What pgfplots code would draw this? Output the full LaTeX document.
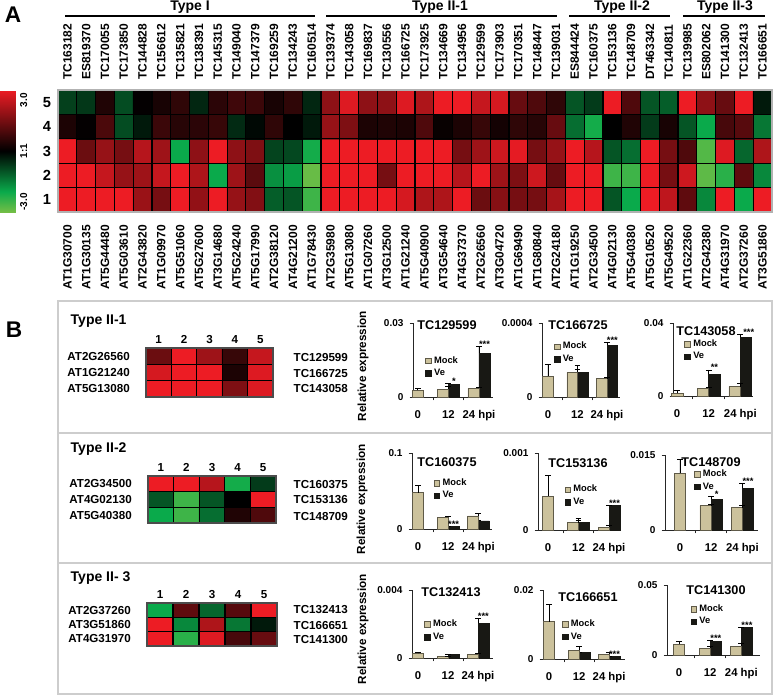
\documentclass[border=0pt]{standalone}
\usepackage{fontspec}
\setmainfont{Liberation Sans}
\usepackage{pgfplots}
\pgfplotsset{compat=1.18}

\newcommand\ff[1]{\fontsize{#1}{#1}\selectfont\bfseries}
\definecolor{mock}{RGB}{204,194,156}
\definecolor{mockedge}{RGB}{95,90,72}
\definecolor{ve}{RGB}{24,24,20}
\definecolor{boxgray}{RGB}{205,205,205}

\pgfplotsset{
  colormap={gbr}{rgb255(0cm)=(115,190,70) rgb255(1cm)=(10,170,75) rgb255(3cm)=(0,0,0) rgb255(6cm)=(237,28,36)},
  heat/.style={scale only axis, anchor=north west, colormap name=gbr,
    point meta min=-3, point meta max=3, axis on top,
    major tick length=0pt, minor tick length=0pt,
    xminorgrids, yminorgrids, minor grid style={black, line width=0.9pt}},
  small heat/.style={heat, xmin=0.5, xmax=5.5, ymin=0.5, ymax=3.5,
    xtick={1,...,5}, xticklabels={1,2,3,4,5}, xticklabel pos=upper,
    xticklabel style={font=\ff{8.7}, inner sep=0pt, yshift=3pt},
    ytick={1,2,3}, yticklabel style={font=\ff{8.7}, inner ysep=0pt, inner xsep=12pt},
    minor xtick={0.5,1.5,2.5,3.5,4.5,5.5}, minor ytick={0.5,1.5,2.5,3.5},
    axis line style={black!70, line width=0.9pt}},
  bars/.style={scale only axis, anchor=south west, ymin=0, clip=false,
    axis x line*=bottom, axis y line*=left,
    axis line style={black!85, line width=0.7pt},
    tick style={black!85, line width=0.7pt}, tick align=outside,
    major tick length=0pt, minor tick length=2.5pt,
    xtick={0,1,2}, xticklabels={0,12,24 hpi},
    minor xtick={0.5,1.5}, scaled y ticks=false,
    xticklabel style={font=\ff{8.5}, inner sep=0pt, yshift=-10pt},
    yticklabel style={font=\ff{7.5}, inner sep=0pt, xshift=-7pt},
    legend style={draw=none, fill=none, font=\ff{7}, anchor=north west,
      inner sep=0pt, row sep=-1pt},
    legend cell align=left},
  mockbar/.style={ybar, bar width=0.36, fill=mock, draw=mockedge, line width=0.4pt,
    legend image code/.code={\draw[fill=mock, draw=mockedge, line width=0.4pt] (0pt,-2.1pt) rectangle (4.2pt,2.1pt);},
    error bars/y dir=plus, error bars/y explicit,
    error bars/error bar style={black, line width=0.6pt},
    error bars/error mark options={rotate=90, black, mark size=2.2pt, line width=0.6pt}},
  vebar/.style={ybar, bar width=0.36, fill=ve, draw=ve, line width=0.4pt,
    legend image code/.code={\draw[fill=ve, draw=ve, line width=0.4pt] (0pt,-2.1pt) rectangle (4.2pt,2.1pt);},
    error bars/y dir=plus, error bars/y explicit,
    error bars/error bar style={black, line width=0.6pt},
    error bars/error mark options={rotate=90, black, mark size=2.2pt, line width=0.6pt}},
}
\tikzset{sig/.style={font=\ff{7}, anchor=south, inner sep=0.5pt, yshift=-1.5pt},
  ttl/.style={font=\ff{9.5}},
  rel/.style={font=\ff{8.8}, rotate=90}}

\begin{document}
\begin{tikzpicture}[x=0.75pt,y=0.75pt]
\useasboundingbox (0,0) rectangle (774,-697);

% ---------------- panel A ----------------
\node[font=\ff{17}] at (13,-15) {A};
\node[font=\ff{10.5}] at (190,-7) {Type I};
\node[font=\ff{10.5}] at (440,-7) {Type II-1};
\node[font=\ff{10.5}] at (622,-7) {Type II-2};
\node[font=\ff{10.5}] at (725,-7) {Type II-3};
\draw[line width=1pt] (65,-16) -- (315,-16);
\draw[line width=1pt] (326,-16) -- (557,-16);
\draw[line width=1pt] (569,-16) -- (670,-16);
\draw[line width=1pt] (683,-16) -- (765,-16);

\begin{axis}[heat, at={(43.5pt,-67.5pt)}, width=535.5pt, height=91.5pt,
  xmin=0.5, xmax=38.5, ymin=0.5, ymax=5.5,
  axis line style={gray!60, line width=0.9pt},
  xtick={1,...,38},
  xticklabels={AT1G30700,AT1G30135,AT5G44480,AT5G03610,AT2G43820,AT1G09970,AT5G51060,AT5G27600,AT3G14680,AT5G24240,AT5G17990,AT2G38120,AT4G21200,AT1G78430,AT2G35980,AT5G13080,AT1G07260,AT3G12500,AT1G21240,AT5G40900,AT3G54640,AT4G37370,AT2G26560,AT3G04720,AT1G69490,AT1G80840,AT2G24180,AT1G19250,AT2G34500,AT4G02130,AT5G40380,AT5G10520,AT5G49520,AT1G22360,AT2G42380,AT4G31970,AT2G37260,AT3G51860},
  xticklabel style={rotate=90, anchor=east, font=\ff{9}, inner xsep=9.75pt, inner ysep=0pt},
  ytick={1,...,5}, yticklabels={1,2,3,4,5},
  yticklabel style={font=\ff{11}, inner sep=0pt, xshift=-5pt},
  minor xtick={0.5,1.5,2.5,3.5,4.5,5.5,6.5,7.5,8.5,9.5,10.5,11.5,12.5,13.5,14.5,15.5,16.5,17.5,18.5,19.5,20.5,21.5,22.5,23.5,24.5,25.5,26.5,27.5,28.5,29.5,30.5,31.5,32.5,33.5,34.5,35.5,36.5,37.5,38.5},
  minor ytick={0.5,1.5,2.5,3.5,4.5,5.5},
  colorbar, colorbar style={at={(-8.54pt,-67.5pt)}, anchor=north west,
    width=12pt, ytick={-2.5,0,2.5}, yticklabels={-3.0,1:1,3.0},
    yticklabel pos=right, major tick length=0pt, axis line style={draw=none},
    yticklabel style={rotate=90, anchor=north, font=\ff{7.5}, inner xsep=0pt, inner ysep=3pt}}]
\addplot[matrix plot*, mesh/cols=38, point meta=explicit] table[meta=v, row sep=\\] {
x y v\\
1 1 3\\ 2 1 3\\ 3 1 3\\ 4 1 3\\ 5 1 1.95\\ 6 1 1.5\\ 7 1 3\\ 8 1 1.85\\ 9 1 3\\ 10 1 1.9\\ 11 1 1.65\\ 12 1 -1.1\\ 13 1 -1\\ 14 1 -2.5\\ 15 1 3\\ 16 1 3\\ 17 1 3\\ 18 1 3\\ 19 1 2.7\\ 20 1 2.2\\ 21 1 2.2\\ 22 1 3\\ 23 1 1.35\\ 24 1 1.7\\ 25 1 1.5\\ 26 1 1.5\\ 27 1 2.1\\ 28 1 3\\ 29 1 3\\ 30 1 -1\\ 31 1 -2\\ 32 1 3\\ 33 1 2.4\\ 34 1 1.2\\ 35 1 -1.6\\ 36 1 3\\ 37 1 -2\\ 38 1 3\\
1 2 3\\ 2 2 3\\ 3 2 2.5\\ 4 2 1.9\\ 5 2 2\\ 6 2 2.5\\ 7 2 3\\ 8 2 2.2\\ 9 2 -2\\ 10 2 2\\ 11 2 1.15\\ 12 2 -1.7\\ 13 2 -1.85\\ 14 2 -2.9\\ 15 2 3\\ 16 2 3\\ 17 2 3\\ 18 2 1.5\\ 19 2 3\\ 20 2 3\\ 21 2 3\\ 22 2 2.3\\ 23 2 3\\ 24 2 2\\ 25 2 1.6\\ 26 2 2.6\\ 27 2 1.3\\ 28 2 3\\ 29 2 3\\ 30 2 -2.5\\ 31 2 -2.5\\ 32 2 3\\ 33 2 1.5\\ 34 2 2.6\\ 35 2 -2.8\\ 36 2 -2.3\\ 37 2 1.2\\ 38 2 -1.6\\
1 3 3\\ 2 3 1.35\\ 3 3 1.9\\ 4 3 1.5\\ 5 3 2.3\\ 6 3 2\\ 7 3 -2\\ 8 3 1.8\\ 9 3 3\\ 10 3 1.8\\ 11 3 1.6\\ 12 3 -0.8\\ 13 3 -0.85\\ 14 3 -2.1\\ 15 3 3\\ 16 3 3\\ 17 3 3\\ 18 3 3\\ 19 3 3\\ 20 3 3\\ 21 3 3\\ 22 3 1.5\\ 23 3 2\\ 24 3 2.6\\ 25 3 2.9\\ 26 3 1.5\\ 27 3 1.9\\ 28 3 3\\ 29 3 2.3\\ 30 3 -1\\ 31 3 -1.3\\ 32 3 3\\ 33 3 1.5\\ 34 3 1\\ 35 3 -2.7\\ 36 3 2.8\\ 37 3 -1.2\\ 38 3 2.2\\
1 4 0.35\\ 2 4 0.05\\ 3 4 0.95\\ 4 4 -0.9\\ 5 4 -0.3\\ 6 4 0.75\\ 7 4 0.5\\ 8 4 0.55\\ 9 4 0.7\\ 10 4 -0.5\\ 11 4 -0.1\\ 12 4 0.6\\ 13 4 0\\ 14 4 -0.3\\ 15 4 1.9\\ 16 4 1.6\\ 17 4 0.35\\ 18 4 0.4\\ 19 4 0.35\\ 20 4 1\\ 21 4 0.1\\ 22 4 0.35\\ 23 4 0.7\\ 24 4 0.25\\ 25 4 0.6\\ 26 4 0.5\\ 27 4 1.3\\ 28 4 -1.3\\ 29 4 -2.1\\ 30 4 0\\ 31 4 0.4\\ 32 4 -0.7\\ 33 4 0.3\\ 34 4 -1\\ 35 4 -2\\ 36 4 0.9\\ 37 4 1.1\\ 38 4 -1.4\\
1 5 -0.75\\ 2 5 -0.65\\ 3 5 0.4\\ 4 5 -0.9\\ 5 5 0.05\\ 6 5 0.3\\ 7 5 0.6\\ 8 5 -0.45\\ 9 5 0.55\\ 10 5 0.8\\ 11 5 0.75\\ 12 5 0.3\\ 13 5 0.6\\ 14 5 -0.45\\ 15 5 1.8\\ 16 5 2.8\\ 17 5 1.8\\ 18 5 1.8\\ 19 5 2.8\\ 20 5 2.2\\ 21 5 3\\ 22 5 3\\ 23 5 2.5\\ 24 5 2.7\\ 25 5 1.3\\ 26 5 1\\ 27 5 0.6\\ 28 5 -1\\ 29 5 -0.7\\ 30 5 3\\ 31 5 1\\ 32 5 -1\\ 33 5 -1.1\\ 34 5 3\\ 35 5 1.8\\ 36 5 1.3\\ 37 5 3\\ 38 5 -0.3\\
};
\end{axis}

% top labels of the heatmap
\begin{axis}[scale only axis, anchor=north west, at={(43.5pt,-67.5pt)}, width=535.5pt, height=91.5pt,
  xmin=0.5, xmax=38.5, ymin=0, ymax=1, hide y axis, axis x line*=top,
  axis line style={draw=none}, major tick length=0pt, xtick={1,...,38},
  xticklabels={TC163182,ES819370,TC170055,TC173850,TC144828,TC156612,TC135821,TC138391,TC145315,TC149040,TC147379,TC169259,TC134243,TC160514,TC139374,TC143058,TC169837,TC130556,TC166725,TC173925,TC134669,TC134956,TC129599,TC173903,TC170351,TC148447,TC139031,ES844424,TC160375,TC153136,TC148709,DT463342,TC140811,TC139985,ES802062,TC141300,TC132413,TC166651},
  xticklabel style={rotate=90, anchor=west, font=\ff{9}, inner xsep=7.5pt, inner ysep=0pt}]
\end{axis}

% ---------------- panel B ----------------
\node[font=\ff{17}] at (14,-330) {B};
\draw[boxgray, line width=1.2pt] (58,-301) rectangle (772,-694);
\draw[boxgray, line width=1.2pt] (58,-433) -- (772,-433) (58,-563) -- (772,-563);

\node[font=\ff{10.5}, anchor=west] at (66,-321) {Type II-1};
\node[font=\ff{10.5}, anchor=west] at (66,-449) {Type II-2};
\node[font=\ff{10.5}, anchor=west] at (66,-578) {Type II- 3};

\begin{axis}[small heat, at={(109.5pt,-261pt)}, width=95.25pt, height=36.75pt,
  yticklabels={AT5G13080,AT1G21240,AT2G26560}]
\addplot[matrix plot*, mesh/cols=5, point meta=explicit] table[meta=v, row sep=\\] {
x y v\\ 1 1 3\\ 2 1 3\\ 3 1 3\\ 4 1 1.6\\ 5 1 2.8\\
1 2 2.7\\ 2 2 3\\ 3 2 3\\ 4 2 0.35\\ 5 2 2.8\\
1 3 1.35\\ 2 3 3\\ 3 3 2\\ 4 3 0.7\\ 5 3 2.5\\
};
\end{axis}
\begin{axis}[small heat, at={(111pt,-357pt)}, width=96pt, height=35.25pt,
  yticklabels={AT5G40380,AT4G02130,AT2G34500}]
\addplot[matrix plot*, mesh/cols=5, point meta=explicit] table[meta=v, row sep=\\] {
x y v\\ 1 1 -2\\ 2 1 -2.5\\ 3 1 -1.3\\ 4 1 0.4\\ 5 1 1\\
1 2 -1\\ 2 2 -2.5\\ 3 2 -1\\ 4 2 0\\ 5 2 3\\
1 3 3\\ 2 3 3\\ 3 3 2.3\\ 4 3 -2.1\\ 5 3 -0.7\\
};
\end{axis}
\begin{axis}[small heat, at={(110.25pt,-452.25pt)}, width=97.5pt, height=32.25pt,
  yticklabels={AT4G31970,AT3G51860,AT2G37260}]
\addplot[matrix plot*, mesh/cols=5, point meta=explicit] table[meta=v, row sep=\\] {
x y v\\ 1 1 3\\ 2 1 -2.3\\ 3 1 2.8\\ 4 1 0.9\\ 5 1 1.3\\
1 2 3\\ 2 2 -1.6\\ 3 2 2.2\\ 4 2 -1.4\\ 5 2 -0.3\\
1 3 -2\\ 2 3 1.2\\ 3 3 -1.2\\ 4 3 1.1\\ 5 3 3\\
};
\end{axis}

\foreach \y/\t in {357/TC129599,373/TC166725,389/TC143058,485/TC160375,500/TC153136,516/TC148709,610/TC132413,625/TC166651,640/TC141300}
  \node[font=\ff{8.7}, anchor=west] at (289,-\y) {\t};

\node[rel] at (363,-366) {Relative expression};
\node[rel] at (362,-499) {Relative expression};
\node[rel] at (363,-629) {Relative expression};

% row 1 of bar charts
\begin{axis}[bars, at={(309.75pt,-297.75pt)}, width=60pt, height=55.5pt,
  xmin=-0.16, xmax=2.46, ymax=0.03, ytick={0,0.03}, yticklabels={0,0.03}, minor ytick={0,0.03},
  legend style={at={(0.15,0.59)}}]
\addplot[mockbar, bar shift=0] coordinates {(0,0.0027) +- (0,0.0007)};
\addplot[vebar, bar shift=0.18] coordinates {(1,0.0052) +- (0,0.0004) (2,0.0177) +- (0,0.0028)};
\addplot[mockbar, bar shift=-0.18, forget plot] coordinates {(1,0.0031) +- (0,0.001) (2,0.0035) +- (0,0.0005)};
\legend{Mock,Ve}
\node[sig] at (axis cs:1.18,0.0056) {*};
\node[sig] at (axis cs:2.18,0.0205) {***};
\end{axis}
\node[ttl] at (447,-325) {TC129599};

\begin{axis}[bars, at={(406.5pt,-297.75pt)}, width=58.5pt, height=55.5pt,
  xmin=-0.2, xmax=2.44, ymax=0.0004, ytick={0,0.0004}, yticklabels={0,0.0004}, minor ytick={0,0.0004},
  legend style={at={(0.15,0.78)}}]
\addplot[mockbar, bar shift=0] coordinates {(0,0.000112) +- (0,0.000063)};
\addplot[vebar, bar shift=0.18] coordinates {(1,0.000135) +- (0,0.000035) (2,0.000279) +- (0,0.000016)};
\addplot[mockbar, bar shift=-0.18, forget plot] coordinates {(1,0.000133) +- (0,0.000015) (2,0.0000991) +- (0,0.000009)};
\legend{Mock,Ve}
\node[sig] at (axis cs:2.18,0.000295) {***};
\end{axis}
\node[ttl] at (578,-325) {TC166725};

\begin{axis}[bars, at={(504.75pt,-297pt)}, width=60pt, height=54.75pt,
  xmin=-0.13, xmax=2.4, ymax=0.04, ytick={0,0.04}, yticklabels={0,0.04}, minor ytick={0,0.04},
  legend style={at={(0.14,0.81)}}]
\addplot[mockbar, bar shift=0] coordinates {(0,0.0015) +- (0,0.0013)};
\addplot[vebar, bar shift=0.18] coordinates {(1,0.0119) +- (0,0.0024) (2,0.0323) +- (0,0.0013)};
\addplot[mockbar, bar shift=-0.18, forget plot] coordinates {(1,0.0042) +- (0,0.0006) (2,0.0051) +- (0,0.0019)};
\legend{Mock,Ve}
\node[sig] at (axis cs:1.18,0.0143) {**};
\node[sig, xshift=2pt] at (axis cs:2.18,0.0336) {***};
\end{axis}
\node[ttl] at (706,-331) {TC143058};

% row 2
\begin{axis}[bars, at={(309pt,-396.75pt)}, width=60pt, height=57pt,
  xmin=-0.2, xmax=2.45, ymax=0.1, ytick={0,0.1}, yticklabels={0,0.1}, minor ytick={0,0.1},
  legend style={at={(0.27,0.70)}}]
\addplot[mockbar, bar shift=0] coordinates {(0,0.048) +- (0,0.009)};
\addplot[vebar, bar shift=0.18] coordinates {(1,0.003) +- (0,0.0003) (2,0.0106) +- (0,0.0009)};
\addplot[mockbar, bar shift=-0.18, forget plot] coordinates {(1,0.0154) +- (0,0.0018) (2,0.0172) +- (0,0.0035)};
\legend{Mock,Ve}
\node[sig] at (axis cs:1.18,0.0033) {***};
\end{axis}
\node[ttl] at (447,-462) {TC160375};

\begin{axis}[bars, at={(403.5pt,-397.5pt)}, width=61.5pt, height=57.75pt,
  xmin=-0.33, xmax=2.36, ymax=0.001, ytick={0,0.001}, yticklabels={0,0.001}, minor ytick={0,0.001},
  legend style={at={(0.32,0.62)}}]
\addplot[mockbar, bar shift=0] coordinates {(0,0.000443) +- (0,0.00026)};
\addplot[vebar, bar shift=0.18] coordinates {(1,0.0000957) +- (0,0.00006) (2,0.000317) +- (0,0.000005)};
\addplot[mockbar, bar shift=-0.18, forget plot] coordinates {(1,0.0000957) +- (0,0.000035) (2,0.000035) +- (0,0.000022)};
\legend{Mock,Ve}
\node[sig] at (axis cs:2.18,0.000322) {***};
\end{axis}
\node[ttl] at (578,-463) {TC153136};

\begin{axis}[bars, at={(498.75pt,-397.5pt)}, width=69.75pt, height=56.25pt,
  xmin=-0.48, xmax=2.5, ymax=0.015, ytick={0,0.015}, yticklabels={0,0.015}, minor ytick={0,0.015},
  legend style={at={(0.31,0.84)}}]
\addplot[mockbar, bar shift=0] coordinates {(0,0.01133) +- (0,0.0028)};
\addplot[vebar, bar shift=0.18] coordinates {(1,0.00613) +- (0,0.00055) (2,0.00833) +- (0,0.0009)};
\addplot[mockbar, bar shift=-0.18, forget plot] coordinates {(1,0.00487) +- (0,0.00025) (2,0.00447) +- (0,0.0004)};
\legend{Mock,Ve}
\node[sig] at (axis cs:1.18,0.00668) {*};
\node[sig] at (axis cs:2.18,0.00923) {***};
\end{axis}
\node[ttl] at (711,-462) {TC148709};

% row 3
\begin{axis}[bars, at={(309pt,-493.5pt)}, width=60.75pt, height=51pt,
  xmin=-0.2, xmax=2.5, ymax=0.004, ytick={0,0.004}, yticklabels={0,0.004}, minor ytick={0,0.004},
  legend style={at={(0.15,0.60)}}]
\addplot[mockbar, bar shift=0] coordinates {(0,0.00027) +- (0,0.00006)};
\addplot[vebar, bar shift=0.18] coordinates {(1,0.0002) +- (0,0.00002) (2,0.00205) +- (0,0.0003)};
\addplot[mockbar, bar shift=-0.18, forget plot] coordinates {(1,0.0001) +- (0,0.00002) (2,0.00023) +- (0,0.00004)};
\legend{Mock,Ve}
\node[sig] at (axis cs:2.18,0.00235) {***};
\end{axis}
\node[ttl] at (451,-592) {TC132413};

\begin{axis}[bars, at={(407.25pt,-494.25pt)}, width=61.5pt, height=51.75pt,
  xmin=-0.2, xmax=2.53, ymax=0.02, ytick={0,0.02}, yticklabels={0,0.02}, minor ytick={0,0.02},
  legend style={at={(0.23,0.61)}}]
\addplot[mockbar, bar shift=0] coordinates {(0,0.0108) +- (0,0.0051)};
\addplot[vebar, bar shift=0.18] coordinates {(1,0.0019) +- (0,0.0001) (2,0.0007) +- (0,0)};
\addplot[mockbar, bar shift=-0.18, forget plot] coordinates {(1,0.0026) +- (0,0.001) (2,0.00145) +- (0,0.00035)};
\legend{Mock,Ve}
\node[sig] at (axis cs:2.18,0.0007) {***};
\end{axis}
\node[ttl] at (588,-597) {TC166651};

\begin{axis}[bars, at={(500.25pt,-491.25pt)}, width=69.75pt, height=52.5pt,
  xmin=-0.39, xmax=2.6, ymax=0.05, ytick={0,0.05}, yticklabels={0,0.05}, minor ytick={0,0.05},
  legend style={at={(0.25,0.76)}}]
\addplot[mockbar, bar shift=0] coordinates {(0,0.0076) +- (0,0.0019)};
\addplot[vebar, bar shift=0.18] coordinates {(1,0.01) +- (0,0.0005) (2,0.0195) +- (0,0.0005)};
\addplot[mockbar, bar shift=-0.18, forget plot] coordinates {(1,0.0048) +- (0,0.0012) (2,0.0064) +- (0,0.0019)};
\legend{Mock,Ve}
\node[sig] at (axis cs:1.18,0.0105) {***};
\node[sig] at (axis cs:2.18,0.02) {***};
\end{axis}
\node[ttl] at (716,-590) {TC141300};

\end{tikzpicture}
\end{document}
